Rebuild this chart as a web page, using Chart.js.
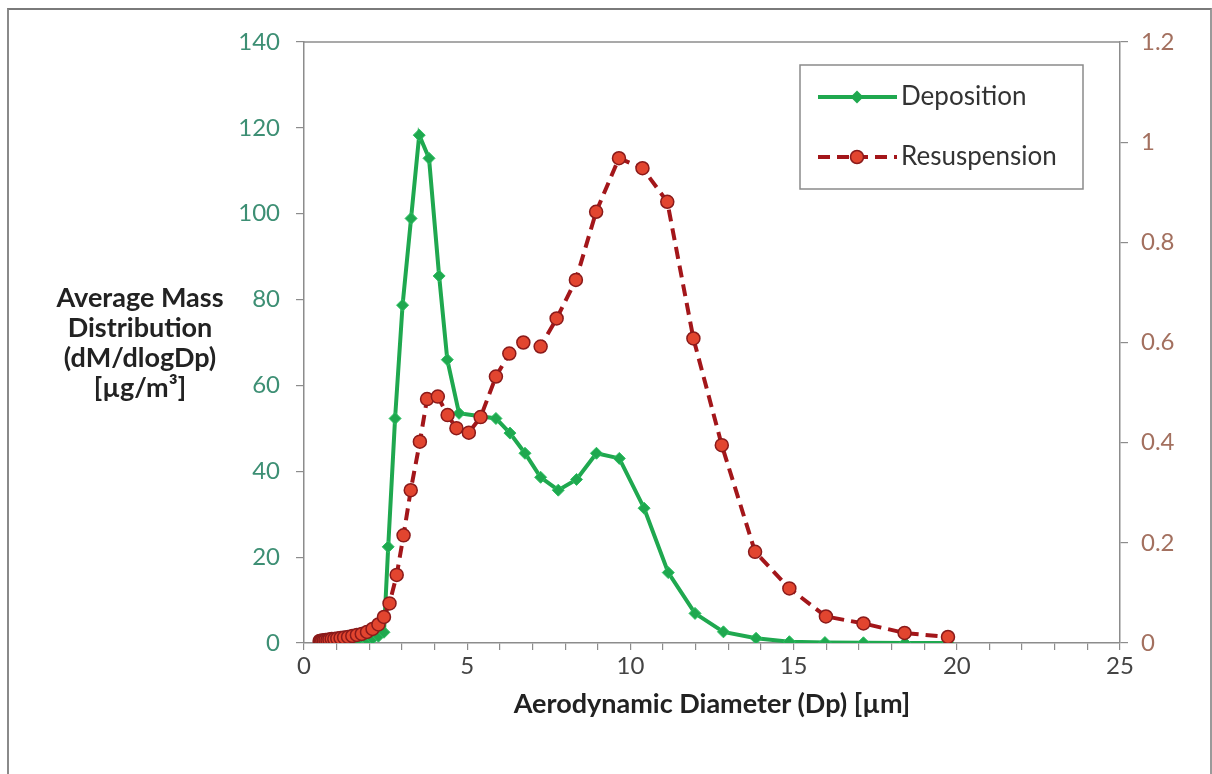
<!DOCTYPE html>
<html>
<head>
<meta charset="utf-8">
<script src="https://cdn.jsdelivr.net/npm/chart.js@4.4.1/dist/chart.umd.min.js"></script>
<style>
  html, body { margin: 0; padding: 0; background: #fff; }
  #wrap { position: relative; width: 1212px; height: 774px; overflow: hidden; background: #fff; }
  #frame { position: absolute; left: 7px; top: 8px; width: 1201px; height: 800px;
           border-left: 2px solid #8a8a8a; border-top: 2px solid #7a7a7a; border-right: 2px solid #9a9a9a; }
  #chartBox { position: absolute; left: 0; top: 0; width: 1212px; height: 774px; }
  .ytitle { position: absolute; left: 20px; top: 282px; width: 240px; text-align: center;
            font-family: "Lato", "Open Sans", sans-serif; font-weight: bold; font-size: 27px;
            line-height: 30px; color: #222; }
  .xtitle { position: absolute; left: 362px; top: 686px; width: 700px; text-align: center;
            font-family: "Lato", "Open Sans", sans-serif; font-weight: bold; font-size: 27px;
            line-height: 34px; color: #222; }
</style>
</head>
<body>
<div id="wrap">
  <div id="frame"></div>
  <div id="chartBox"><canvas id="c"></canvas></div>
  <div class="ytitle">Average Mass<br>Distribution<br>(dM/dlogDp)<br>[µg/m³]</div>
  <div class="xtitle">Aerodynamic Diameter (Dp) [µm]</div>
</div>
<script>
// ---- data ----
const depositionX = [0.48, 0.56, 0.66, 0.78, 0.93, 1.12, 1.35, 1.62, 1.93, 2.1, 2.28, 2.45,
  2.58, 2.79, 3.02, 3.28, 3.53, 3.83, 4.14, 4.39, 4.75, 5.88, 6.31, 6.77, 7.25, 7.79, 8.35,
  8.96, 9.66, 10.42, 11.16, 11.98, 12.85, 13.85, 14.87, 15.96, 17.14, 18.41, 19.73];
const depositionY = [0.05, 0.05, 0.1, 0.1, 0.15, 0.2, 0.3, 0.4, 0.7, 1.0, 1.6, 2.5,
  22.4, 52.3, 78.7, 98.9, 118.3, 112.9, 85.5, 66.0, 53.5, 52.3, 48.9, 44.2, 38.6, 35.6, 38.1,
  44.2, 43.0, 31.4, 16.4, 6.9, 2.6, 1.1, 0.3, 0.1, 0.05, 0.02, 0.01];

const resuspensionX = [0.48, 0.52, 0.56, 0.61, 0.66, 0.72, 0.78, 0.85, 0.93, 1.02,
  1.12, 1.23, 1.35, 1.48, 1.62, 1.77, 1.93, 2.1, 2.28, 2.45,
  2.62, 2.84, 3.05, 3.27, 3.55, 3.77, 4.1, 4.4, 4.67, 5.05,
  5.41, 5.88, 6.29, 6.72, 7.25, 7.74, 8.33, 8.95, 9.65, 10.37,
  11.13, 11.93, 12.8, 13.82, 14.87, 15.99, 17.14, 18.4, 19.73];
const resuspensionY = [0.004, 0.004, 0.005, 0.005, 0.006, 0.006, 0.007, 0.008, 0.008, 0.009,
  0.01, 0.011, 0.012, 0.014, 0.016, 0.018, 0.022, 0.028, 0.037, 0.052,
  0.079, 0.136, 0.215, 0.305, 0.402, 0.487, 0.492, 0.455, 0.429, 0.42,
  0.451, 0.532, 0.578, 0.600, 0.592, 0.648, 0.725, 0.861, 0.968, 0.948,
  0.881, 0.608, 0.395, 0.182, 0.109, 0.053, 0.039, 0.02, 0.012];

const seriesNames = ["Deposition", "Resuspension"];
const xTickLabels = [0, 5, 10, 15, 20, 25];
const leftTicks = [0, 20, 40, 60, 80, 100, 120, 140];
const rightTicks = [0, 0.2, 0.4, 0.6, 0.8, 1, 1.2];

// ---- styles ----
const GREEN = '#1fa84f';
const RED_LINE = '#a3161a';
const RED_FILL = '#e2452f';
const RED_EDGE = '#8a1a1a';
const AXIS = '#8c8c8c';
const FONT = '"Lato", "Open Sans", sans-serif';

const toPts = (xs, ys) => xs.map((x, i) => ({ x: x, y: ys[i] }));

const frameLines = {
  id: 'frameLines',
  afterDraw(chart) {
    const { ctx, chartArea: a } = chart;
    ctx.save();
    ctx.strokeStyle = AXIS;
    ctx.lineWidth = 1.5;
    ctx.beginPath();
    ctx.moveTo(a.left, a.top);
    ctx.lineTo(a.right, a.top);
    ctx.stroke();
    ctx.restore();
  }
};

const boxLegend = {
  id: 'boxLegend',
  afterDraw(chart) {
    const ctx = chart.ctx;
    const bx = 800, by = 65, bw = 283, bh = 124;
    ctx.save();
    ctx.fillStyle = '#fff';
    ctx.fillRect(bx, by, bw, bh);
    ctx.strokeStyle = '#8a8a8a';
    ctx.lineWidth = 1.5;
    ctx.strokeRect(bx, by, bw, bh);
    const y1 = 97, y2 = 157, x0 = 818, x1 = 897, xm = 857;
    ctx.strokeStyle = GREEN; ctx.lineWidth = 4; ctx.setLineDash([]);
    ctx.beginPath(); ctx.moveTo(x0, y1); ctx.lineTo(x1, y1); ctx.stroke();
    ctx.fillStyle = GREEN;
    ctx.beginPath();
    ctx.moveTo(xm, y1 - 6.5); ctx.lineTo(xm + 6.5, y1); ctx.lineTo(xm, y1 + 6.5); ctx.lineTo(xm - 6.5, y1);
    ctx.closePath(); ctx.fill();
    ctx.strokeStyle = RED_LINE; ctx.lineWidth = 4; ctx.setLineDash([12, 7]);
    ctx.beginPath(); ctx.moveTo(x0, y2); ctx.lineTo(x1, y2); ctx.stroke();
    ctx.setLineDash([]);
    ctx.fillStyle = RED_FILL; ctx.strokeStyle = RED_EDGE; ctx.lineWidth = 1.5;
    ctx.beginPath(); ctx.arc(xm, y2, 6.5, 0, Math.PI * 2); ctx.fill(); ctx.stroke();
    ctx.fillStyle = '#333';
    ctx.font = '26px ' + FONT;
    ctx.textBaseline = 'middle';
    ctx.textAlign = 'left';
    ctx.fillText(seriesNames[0], 901, y1);
    ctx.fillText(seriesNames[1], 901, y2);
    ctx.restore();
  }
};

new Chart(document.getElementById('c'), {
  type: 'line',
  data: {
    datasets: [
      {
        label: seriesNames[0],
        data: toPts(depositionX, depositionY),
        yAxisID: 'y',
        order: 1,
        borderColor: GREEN,
        borderWidth: 4,
        backgroundColor: GREEN,
        pointStyle: 'rectRot',
        pointRadius: 6,
        pointBorderWidth: 1,
        pointBorderColor: '#2cc062',
        pointBackgroundColor: GREEN,
        tension: 0,
        fill: false
      },
      {
        label: seriesNames[1],
        data: toPts(resuspensionX, resuspensionY),
        yAxisID: 'y1',
        order: 0,
        borderColor: RED_LINE,
        borderWidth: 4,
        borderDash: [12, 7],
        backgroundColor: RED_FILL,
        pointStyle: 'circle',
        pointRadius: 6.5,
        pointBorderWidth: 1.5,
        pointBorderColor: RED_EDGE,
        pointBackgroundColor: RED_FILL,
        tension: 0,
        fill: false
      }
    ]
  },
  options: {
    responsive: true,
    maintainAspectRatio: false,
    animation: false,
    layout: { padding: { left: 0, right: 0, top: 42, bottom: 0 } },
    plugins: { legend: { display: false }, tooltip: { enabled: false }, title: { display: false } },
    scales: {
      x: {
        type: 'linear',
        min: 0, max: 25,
        afterFit(s) { s.height = 131; },
        afterBuildTicks(s) {
          const t = [];
          for (let v = 0; v <= 25; v++) t.push({ value: v });
          s.ticks = t;
        },
        ticks: {
          autoSkip: false,
          maxRotation: 0,
          padding: 2,
          color: '#444',
          font: { family: FONT, size: 24 },
          callback: (v) => xTickLabels.includes(v) ? String(v) : ''
        },
        grid: { drawOnChartArea: false, drawTicks: true, tickLength: 7, color: AXIS, lineWidth: 1.2 },
        border: { display: true, color: AXIS, width: 1.5 }
      },
      y: {
        position: 'left',
        min: 0, max: 140,
        afterFit(s) { s.width = 304; },
        afterBuildTicks(s) { s.ticks = leftTicks.map(v => ({ value: v })); },
        ticks: {
          padding: 16,
          color: '#3d8f74',
          font: { family: FONT, size: 24 },
          callback: (v) => String(v)
        },
        grid: { drawOnChartArea: false, drawTicks: true, tickLength: 8, color: AXIS, lineWidth: 1.2 },
        border: { display: true, color: AXIS, width: 1.5 }
      },
      y1: {
        position: 'right',
        min: 0, max: 1.2,
        afterFit(s) { s.width = 92; },
        afterBuildTicks(s) { s.ticks = rightTicks.map(v => ({ value: v })); },
        ticks: {
          padding: 13,
          color: '#a3705f',
          font: { family: FONT, size: 24 },
          callback: (v) => String(Number(v.toFixed(1)))
        },
        grid: { drawOnChartArea: false, drawTicks: true, tickLength: 8, color: AXIS, lineWidth: 1.2 },
        border: { display: true, color: AXIS, width: 1.5 }
      }
    }
  },
  plugins: [frameLines, boxLegend]
});
</script>
</body>
</html>
